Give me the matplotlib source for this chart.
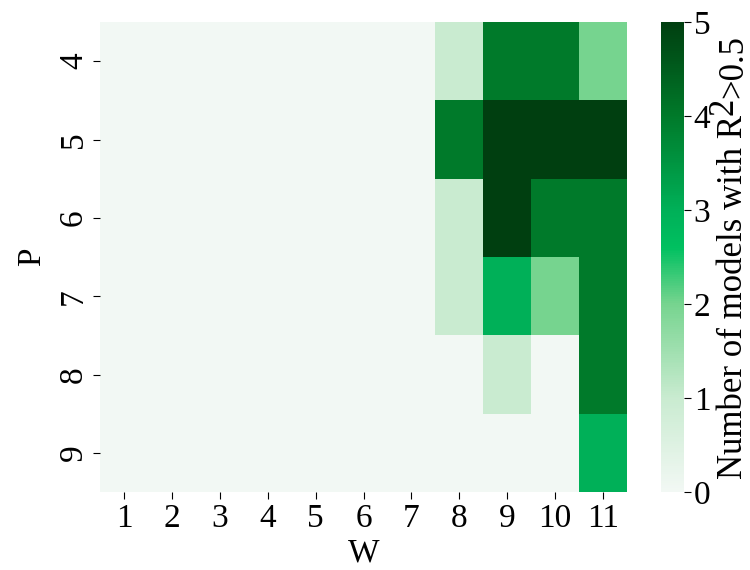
import numpy as np
import matplotlib
matplotlib.use("Agg")
import matplotlib.pyplot as plt
from matplotlib.colors import LinearSegmentedColormap

plt.rcParams['font.family'] = ['Liberation Serif', 'DejaVu Serif']

w_labels = [str(w) for w in range(1, 12)]
p_labels = [str(p) for p in range(4, 10)]

# counts of models with R^2 > 0.5, rows P=4..9, columns W=1..11
counts = np.array([
    [0, 0, 0, 0, 0, 0, 0, 1, 4, 4, 2],
    [0, 0, 0, 0, 0, 0, 0, 4, 5, 5, 5],
    [0, 0, 0, 0, 0, 0, 0, 1, 5, 4, 4],
    [0, 0, 0, 0, 0, 0, 0, 1, 3, 2, 4],
    [0, 0, 0, 0, 0, 0, 0, 0, 1, 0, 4],
    [0, 0, 0, 0, 0, 0, 0, 0, 0, 0, 3],
])

cmap = LinearSegmentedColormap.from_list(
    "greens_custom",
    [(0.0, "#f2f8f4"), (0.2, "#c9ebd0"), (0.4, "#76d48f"),
     (0.52, "#00c060"), (0.6, "#00b058"), (0.8, "#007a2a"), (1.0, "#003f10")],
)

FS = 24
LABEL_FS = 25
W, H = 750, 570
fig = plt.figure(figsize=(7.5, 5.7), dpi=100)
ax = fig.add_axes([100 / W, 1 - 492 / H, 527 / W, 470 / H])
cax = fig.add_axes([661 / W, 1 - 492 / H, 23 / W, 470 / H])

mesh = ax.pcolormesh(np.arange(12), np.arange(7), counts, cmap=cmap, vmin=0, vmax=5)
ax.set_xlim(0, 11)
ax.set_ylim(6, 0)
ax.set_xticks(np.arange(11) + 0.5)
ax.set_xticklabels(w_labels)
ax.set_yticks(np.arange(6) + 0.5)
ax.set_yticklabels(p_labels, rotation=90, va="center")
for s in ax.spines.values():
    s.set_visible(False)
ax.tick_params(labelsize=FS, length=5, width=0.8, pad=3)
ax.set_xlabel("W", fontsize=FS, labelpad=3)
ax.set_ylabel("P", fontsize=FS, labelpad=8)

cb = fig.colorbar(mesh, cax=cax)
cb.outline.set_visible(False)
cb.set_ticks([0, 1, 2, 3, 4, 5])
cb.ax.tick_params(labelsize=FS, length=5, width=0.8, pad=2)

# colorbar label with a full-size raised "2", built from rotated pieces
pieces = [("Number of models with R", 0), ("2", 9), (">0.5", 0)]
renderer = fig.canvas.get_renderer()
base_x = 742
lengths = []
for txt, _ in pieces:
    t = fig.text(0, 0, txt, fontsize=LABEL_FS, rotation=90, rotation_mode="anchor",
                 ha="left", va="baseline", transform=None)
    lengths.append(t.get_window_extent(renderer).height)
    t.remove()
total = sum(lengths)
center_y = H - (22 + 492) / 2
y = center_y - total / 2
for (txt, raise_px), ln in zip(pieces, lengths):
    fig.text((base_x - raise_px) / W, y / H, txt, fontsize=LABEL_FS, rotation=90,
             rotation_mode="anchor", ha="left", va="baseline")
    y += ln

fig.savefig("out.png", dpi=100)
